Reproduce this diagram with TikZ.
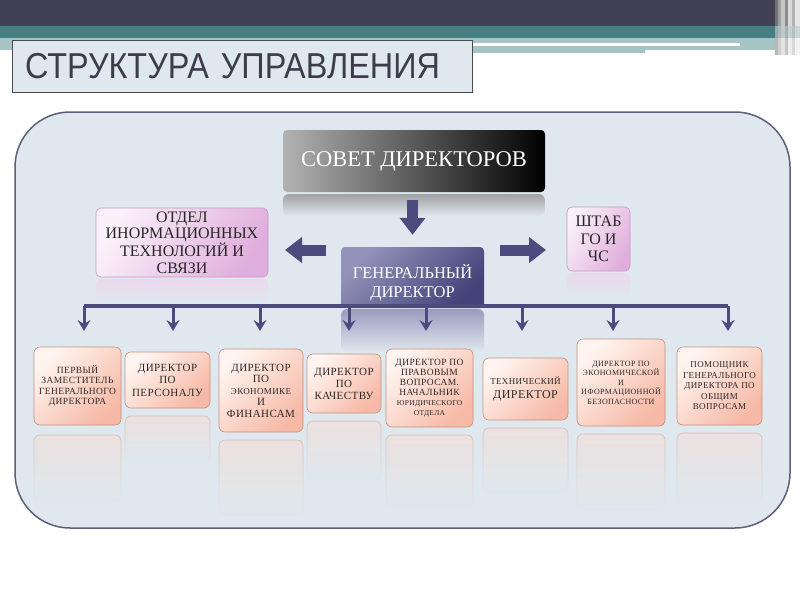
\documentclass[tikz,border=0pt]{standalone}
\usepackage{fontspec}
\setmainfont{Liberation Serif}
\newfontfamily\titlefont[FakeStretch=0.9]{Liberation Sans}
\newfontfamily\boxfont[LetterSpace=4]{Liberation Serif}
\usetikzlibrary{arrows.meta,fadings}
\definecolor{darkbar}{HTML}{414156}
\definecolor{tealbar}{HTML}{467F82}
\definecolor{lteal}{HTML}{A6C4C6}
\definecolor{panelbg}{HTML}{DFE8EE}
\definecolor{panelline}{HTML}{5E5E78}
\definecolor{arrowcol}{HTML}{4B4B7D}
\definecolor{boxlight}{HTML}{FFF4EF}
\definecolor{boxdark}{HTML}{F6B9A6}
\definecolor{boxline}{HTML}{C8907F}
\definecolor{lowtext}{HTML}{2E2828}
\definecolor{pinklight}{HTML}{FAF0F9}
\definecolor{pinkdark}{HTML}{E0AEDC}
\definecolor{pinkline}{HTML}{C79AC6}
\definecolor{gdlight}{HTML}{9393BA}
\definecolor{gddark}{HTML}{42427A}
\definecolor{titletext}{HTML}{3C3C4C}
\definecolor{reflcol}{HTML}{EDE0DE}
\definecolor{reflline}{HTML}{D2B8B0}
\tikzfading[name=fadedown, top color=transparent!10, bottom color=transparent!100]
\begin{document}
\begin{tikzpicture}[x=1pt,y=-1pt,
  lowbox/.style={draw=boxline, line width=0.6pt, rounded corners=6pt,
    top color=boxlight, bottom color=boxdark, shading angle=45,
    align=center, text=lowtext, inner sep=1pt},
  refl/.style={fill=reflcol, draw=reflline, line width=0.6pt, rounded corners=6pt, path fading=fadedown},
  busline/.style={draw=arrowcol, line width=3.5pt},
  drop/.style={draw=arrowcol, line width=3pt, -{Stealth[length=11pt,width=13pt,inset=4pt]}},
  blockarrow/.style={draw=arrowcol, line width=11pt, -{Triangle[length=17pt,width=25pt]}},
  pinkbox/.style={draw=pinkline, line width=0.6pt, rounded corners=5pt,
    top color=pinklight, bottom color=pinkdark, shading angle=60,
    align=center, text=black!85, inner sep=1pt}
]
\useasboundingbox (0,0) rectangle (800,600);
\fill[white] (0,0) rectangle (800,600);
% top bars
\fill[darkbar] (0,0) rectangle (775,26);
\fill[tealbar] (0,26) rectangle (775,38);
\fill[lteal] (0,38) rectangle (775,50);
\fill[lteal] (472,50) rectangle (645,53);
\fill[white] (472,43) rectangle (740,46);
\fill[black!55] (775,0) rectangle (778,55);
\fill[black!38] (778,0) rectangle (781,55);
\fill[black!22] (781,0) rectangle (785,55);
\fill[black!45] (785,0) rectangle (788,55);
\fill[black!15] (788,0) rectangle (792,55);
\fill[black!30] (792,0) rectangle (795,55);
\fill[black!10] (795,0) rectangle (800,55);
\fill[tealbar!40, opacity=0.6] (775,26) rectangle (800,38);
\fill[white, opacity=0.5] (775,38) rectangle (800,55);
% title
\node[draw=black!70, line width=1pt, fill=panelbg, minimum width=460pt, minimum height=52pt,
  text width=434pt, inner xsep=13pt, align=left, text=titletext,
  font=\titlefont\fontsize{36pt}{40pt}\selectfont] (title) at (242,66) {СТРУКТУРА УПРАВЛЕНИЯ};
% panel
\draw[panelline, line width=1.5pt, fill=panelbg, rounded corners=55pt] (15,112) rectangle (790,528);
% reflections upper
\path[refl, fill=black!40, draw=none] (283,194) rectangle (545,216);
\path[refl, fill=pinkdark!50, draw=none] (96,279) rectangle (268,301);
\path[refl, fill=pinkdark!50, draw=none] (567,273) rectangle (630,296);
\path[refl, fill=gdlight, draw=none] (341,309) rectangle (484,352);
% reflections lower
\path[refl] (34,435) rectangle (121,502);
\path[refl] (125,416) rectangle (210,463);
\path[refl] (219,440) rectangle (303,515);
\path[refl] (307,421) rectangle (381,480);
\path[refl] (386,435) rectangle (473,507);
\path[refl] (483,428) rectangle (568,492);
\path[refl] (577,434) rectangle (665,510);
\path[refl] (677,433) rectangle (762,503);
% top boxes
\node[rounded corners=4pt, left color=black!30, right color=black, minimum width=262pt, minimum height=62pt,
  text=white, font=\fontsize{22.5pt}{25pt}\selectfont] (council) at (414,161) {СОВЕТ ДИРЕКТОРОВ};
\node[pinkbox, minimum width=172pt, minimum height=69pt, font=\fontsize{16pt}{16.5pt}\selectfont] (it) at (182,242.5)
  {ОТДЕЛ\\ИНОРМАЦИОННЫХ\\ТЕХНОЛОГИЙ И\\СВЯЗИ};
\node[pinkbox, minimum width=63pt, minimum height=64pt, font=\fontsize{16pt}{17.5pt}\selectfont] (shtab) at (598.5,239)
  {ШТАБ\\ГО И\\ЧС};
\node[rounded corners=4pt, top color=gdlight, bottom color=gddark, shading angle=45,
  minimum width=143pt, minimum height=61pt] (gd) at (412.5,277.5) {};
\node[text=white, align=center, font=\fontsize{16.5pt}{19pt}\selectfont] (gdlabel) at (412.5,283) {ГЕНЕРАЛЬНЫЙ\\ДИРЕКТОР};
% block arrows
\coordinate (la) at (326,250);
\coordinate (lb) at (285,250);
\coordinate (ra) at (500,250);
\coordinate (rb) at (546,250);
\draw[blockarrow, shorten <=8pt, shorten >=12pt] (council.south -| gd.north) -- (gd.north);
\draw[blockarrow] (la) -- (lb);
\draw[blockarrow] (ra) -- (rb);
% bottom boxes
\node[lowbox, minimum width=87pt, minimum height=78pt, font=\boxfont\fontsize{9.5pt}{10.5pt}\selectfont] (b1) at (77.5,386)
  {ПЕРВЫЙ\\ЗАМЕСТИТЕЛЬ\\ГЕНЕРАЛЬНОГО\\ДИРЕКТОРА};
\node[lowbox, minimum width=85pt, minimum height=56pt, font=\boxfont\fontsize{11pt}{12.5pt}\selectfont] (b2) at (167.5,380)
  {ДИРЕКТОР\\ПО\\ПЕРСОНАЛУ};
\node[lowbox, minimum width=84pt, minimum height=83pt, font=\boxfont\fontsize{11pt}{11.5pt}\selectfont] (b3) at (261,390.5)
  {ДИРЕКТОР\\ПО\\{\fontsize{9pt}{11pt}\selectfont ЭКОНОМИКЕ}\\И\\ФИНАНСАМ};
\node[lowbox, minimum width=74pt, minimum height=59pt, font=\boxfont\fontsize{11pt}{12pt}\selectfont] (b4) at (344,383.5)
  {ДИРЕКТОР\\ПО\\КАЧЕСТВУ};
\node[lowbox, minimum width=87pt, minimum height=78pt, font=\boxfont\fontsize{9.5pt}{10pt}\selectfont] (b5) at (429.5,388)
  {ДИРЕКТОР ПО\\ПРАВОВЫМ\\ВОПРОСАМ.\\НАЧАЛЬНИК\\{\fontsize{7.5pt}{8.5pt}\selectfont ЮРИДИЧЕСКОГО}\\{\fontsize{7.5pt}{8.5pt}\selectfont ОТДЕЛА}};
\node[lowbox, minimum width=85pt, minimum height=62pt, font=\boxfont\fontsize{12pt}{14pt}\selectfont] (b6) at (525.5,389)
  {{\fontsize{9pt}{12pt}\selectfont ТЕХНИЧЕСКИЙ}\\ДИРЕКТОР};
\node[lowbox, minimum width=88pt, minimum height=87pt, font=\boxfont\fontsize{8pt}{9.5pt}\selectfont] (b7) at (621,382.5)
  {ДИРЕКТОР ПО\\ЭКОНОМИЧЕСКОЙ\\И\\ИФОРМАЦИОННОЙ\\БЕЗОПАСНОСТИ};
\node[lowbox, minimum width=85pt, minimum height=78pt, font=\boxfont\fontsize{9pt}{10.5pt}\selectfont] (b8) at (719.5,386)
  {ПОМОЩНИК\\ГЕНЕРАЛЬНОГО\\ДИРЕКТОРА ПО\\ОБЩИМ\\ВОПРОСАМ};
% bus
\foreach \i/\x in {1/84,2/173,3/260,4/349,5/426,6/522,7/613,8/728}{
  \coordinate (d\i) at (\x,306);
  \coordinate (e\i) at (\x,331);
}
\draw[busline] (d1) -- (d8);
\foreach \i in {1,...,8}{\draw[drop] (d\i) -- (e\i);}
\end{tikzpicture}
\end{document}
